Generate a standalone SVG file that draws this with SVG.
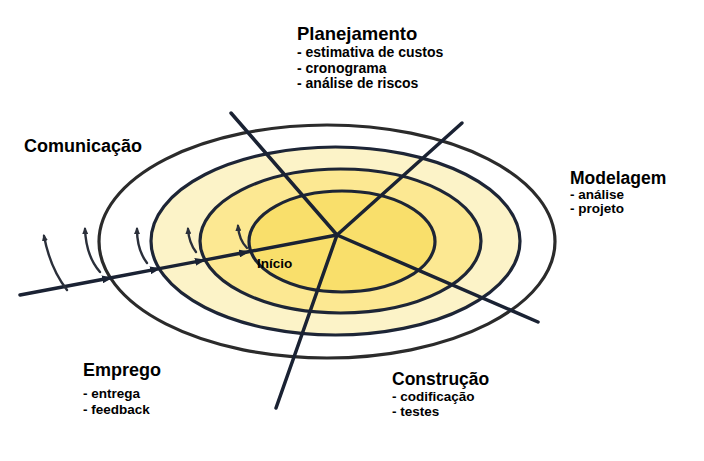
<svg xmlns="http://www.w3.org/2000/svg" width="704" height="461" viewBox="0 0 704 461">
  <style>
    text { font-family: "Liberation Sans", Arial, sans-serif; font-weight: bold; fill: #000; }
    .h { font-size: 18px; }
    .s { font-size: 13.5px; }
    .ring { stroke: #1d2536; stroke-width: 3.2; }
    .spoke { stroke: #1a2233; stroke-width: 3.5; fill: none; stroke-linecap: round; }
    .arc { stroke: #2a2f3a; stroke-width: 2.4; fill: none; stroke-linecap: round; }
  </style>
  <defs>
    <marker id="ahead" markerUnits="userSpaceOnUse" markerWidth="12" markerHeight="8" refX="8" refY="4" orient="auto">
      <path d="M0,0 L11,4 L0,8 z" fill="#1a2233"/>
    </marker>
    <marker id="small" markerUnits="userSpaceOnUse" markerWidth="8" markerHeight="6" refX="5" refY="3" orient="auto">
      <path d="M0,0 L7,3 L0,6 z" fill="#2a2f3a"/>
    </marker>
  </defs>
  <rect width="704" height="461" fill="#ffffff"/>

  <g id="spiral">
    <ellipse cx="327" cy="241.5" rx="228" ry="116.5" fill="#ffffff" stroke="#2b2b2b" stroke-width="3.2"/>
    <ellipse class="ring" cx="335.5" cy="241" rx="184.5" ry="94" fill="#fcf3c8"/>
    <ellipse class="ring" cx="340.5" cy="241" rx="140.5" ry="72" fill="#fce892"/>
    <ellipse class="ring" cx="342" cy="241.5" rx="93" ry="50.5" fill="#f9df6b"/>
  </g>

  <g id="connectors">
    <line class="spoke" x1="231" y1="113" x2="337" y2="235"/>
    <line class="spoke" x1="462" y1="123" x2="337" y2="235"/>
    <line class="spoke" x1="538" y1="322" x2="337" y2="235"/>
    <line class="spoke" x1="276" y1="408" x2="337" y2="235"/>
    <polyline class="spoke" points="20,295 110,277.96 158,268.9 203,260.4 247,252 337,235" marker-mid="url(#ahead)"/>
    <path class="arc" d="M67,290 Q50,268 44,236" marker-end="url(#small)"/>
    <path class="arc" d="M100,272 Q86,256 85,229" marker-end="url(#small)"/>
    <path class="arc" d="M147,263 Q137,250 137,229" marker-end="url(#small)"/>
    <path class="arc" d="M196,252 Q189,243 188,229" marker-end="url(#small)"/>
    <path class="arc" d="M247,248 Q239,240 238,226" marker-end="url(#small)"/>
  </g>

  <g id="inicio">
    <text class="s" x="257" y="268">Início</text>
  </g>

  <g id="planejamento">
    <text x="297" y="40" style="font-size:18.5px">Planejamento</text>
    <text class="s" x="297" y="57" style="font-size:14px">- estimativa de custos</text>
    <text class="s" x="297" y="72.5" style="font-size:14px">- cronograma</text>
    <text class="s" x="297" y="88" style="font-size:14px">- análise de riscos</text>
  </g>

  <g id="comunicacao">
    <text class="h" x="24" y="151.5">Comunicação</text>
  </g>

  <g id="modelagem">
    <text x="570" y="183.5" style="font-size:17.5px">Modelagem</text>
    <text class="s" x="570" y="198.5">- análise</text>
    <text class="s" x="570" y="212.5">- projeto</text>
  </g>

  <g id="emprego">
    <text class="h" x="83" y="376">Emprego</text>
    <text class="s" x="83" y="398">- entrega</text>
    <text class="s" x="83" y="413.5">- feedback</text>
  </g>

  <g id="construcao">
    <text x="392" y="385" style="font-size:17.5px">Construção</text>
    <text class="s" x="392" y="401">- codificação</text>
    <text class="s" x="392" y="415.5">- testes</text>
  </g>
</svg>
